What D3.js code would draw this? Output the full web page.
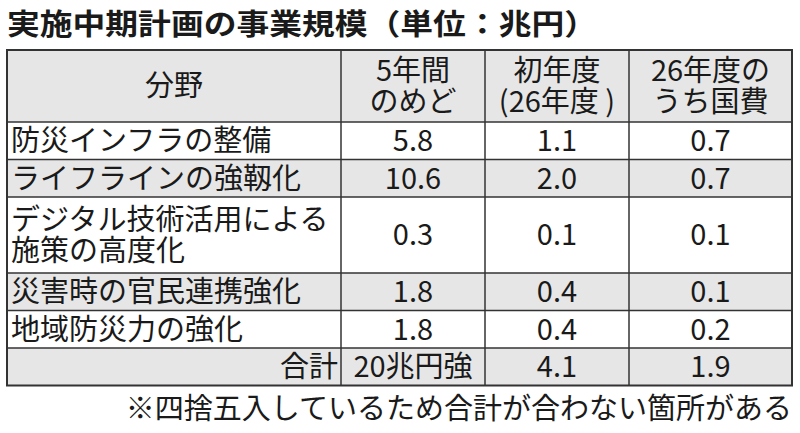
<!DOCTYPE html>
<html>
<head>
<meta charset="utf-8">
<script src="https://cdn.jsdelivr.net/npm/d3@7"></script>
<style>
  body { margin: 0; background: #fff; }
  svg text { font-family: "Noto Sans CJK JP", "Noto Sans", sans-serif; fill: #1a1a1a; }
</style>
</head>
<body>
<script>
// data
var title = "実施中期計画の事業規模（単位：兆円）"
var headers = [["分野"], ["5年間", "のめど"], ["初年度", "(26年度 )"], ["26年度の", "うち国費"]]
var fields = [["防災インフラの整備"], ["ライフラインの強靱化"], ["デジタル技術活用による", "施策の高度化"], ["災害時の官民連携強化"], ["地域防災力の強化"]]
var fiveYear = [5.8, 10.6, 0.3, 1.8, 1.8]
var firstYear = [1.1, 2.0, 0.1, 0.4, 0.4]
var national = [0.7, 0.7, 0.1, 0.1, 0.2]
var totalLabel = "合計"
var totals = ["20兆円強", 4.1, 1.9]
var note = "※四捨五入しているため合計が合わない箇所がある"

var width = 800, height = 433
var fmt = d3.format(".1f")

var svg = d3.select("body").append("svg")
  .attr("width", width)
  .attr("height", height)

// column edges
var colEdges = [7, 341, 485, 629, 792]
var x = d3.scaleOrdinal().domain([0, 1, 2, 3]).range(colEdges.slice(0, 4))
var colW = function(i) { return colEdges[i + 1] - colEdges[i] }

// row layout
var rows = []
rows.push({ kind: "head", cells: headers, fill: "#e6e6e6" })
fields.forEach(function(f, i) {
  rows.push({ kind: "body", cells: [f, [fmt(fiveYear[i])], [fmt(firstYear[i])], [fmt(national[i])]],
    fill: i % 2 == 1 ? "#e6e6e6" : "#fff" })
})
rows.push({ kind: "total", cells: [[totalLabel]].concat(totals.map(function(t) { return [typeof t == "number" ? fmt(t) : t] })),
  fill: "#e6e6e6" })

var fs = 29, lineH = 31
var y0 = 50
rows.forEach(function(r) {
  var n = d3.max(r.cells, function(c) { return c.length })
  r.h = r.kind == "head" ? 72 : (n == 1 ? 37.5 : 76)
  r.y = y0
  y0 += r.h
})

svg.append("text")
  .attr("x", 7)
  .attr("y", 35)
  .attr("font-size", 29)
  .attr("font-weight", "bold")
  .attr("textLength", 590)
  .attr("lengthAdjust", "spacingAndGlyphs")
  .text(title)

var rowG = svg.selectAll("g.row").data(rows).join("g")
  .attr("class", "row")
  .attr("transform", function(d) { return "translate(0," + d.y + ")" })

rowG.append("rect")
  .attr("x", colEdges[0])
  .attr("width", colEdges[4] - colEdges[0])
  .attr("height", function(d) { return d.h })
  .attr("fill", function(d) { return d.fill })

rowG.each(function(r) {
  var g = d3.select(this)
  r.cells.forEach(function(lines, ci) {
    var anchor = "middle", tx = x(ci) + colW(ci) / 2
    if (r.kind == "body" && ci == 0) { anchor = "start"; tx = x(ci) + 4 }
    if (r.kind == "total" && ci == 0) { anchor = "end"; tx = colEdges[1] - 3 }
    var cy = r.h / 2
    lines.forEach(function(t, li) {
      g.append("text")
        .attr("x", tx)
        .attr("y", cy + (li - (lines.length - 1) / 2) * lineH)
        .attr("dy", "0.36em")
        .attr("text-anchor", anchor)
        .attr("font-size", fs)
        .text(t)
    })
  })
})

// grid lines
var tableTop = rows[0].y, tableBottom = y0
svg.append("g").selectAll("line").data(rows.slice(1).map(function(r) { return r.y }))
  .join("line")
  .attr("x1", colEdges[0]).attr("x2", colEdges[4])
  .attr("y1", function(d) { return d }).attr("y2", function(d) { return d })
  .attr("stroke", "#333").attr("stroke-width", 1.5)

svg.append("g").selectAll("line").data(colEdges.slice(1, 4))
  .join("line")
  .attr("x1", function(d) { return d }).attr("x2", function(d) { return d })
  .attr("y1", tableTop).attr("y2", tableBottom)
  .attr("stroke", "#333").attr("stroke-width", 1.5)

svg.append("rect")
  .attr("x", colEdges[0]).attr("y", tableTop)
  .attr("width", colEdges[4] - colEdges[0]).attr("height", tableBottom - tableTop)
  .attr("fill", "none").attr("stroke", "#333").attr("stroke-width", 2)

svg.append("text")
  .attr("x", 792)
  .attr("y", 419)
  .attr("text-anchor", "end")
  .attr("font-size", fs)
  .text(note)
</script>
</body>
</html>
